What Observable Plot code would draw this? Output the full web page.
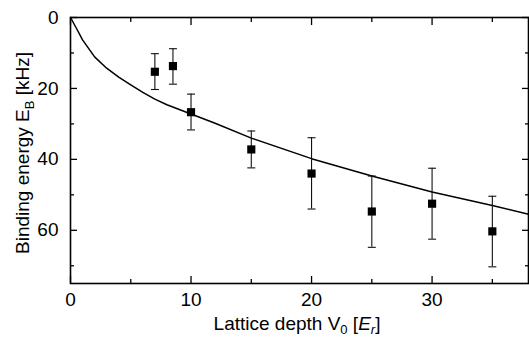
<!DOCTYPE html>
<html>
<head>
<meta charset="utf-8">
<script src="https://cdn.jsdelivr.net/npm/d3@7"></script>
<script src="https://cdn.jsdelivr.net/npm/@observablehq/plot@0.6"></script>
<style>
  html, body { margin: 0; padding: 0; background: #fff; }
  svg { font-family: "Liberation Sans", Arial, sans-serif; }
</style>
</head>
<body>
<div id="chart"></div>
<script>
// Measured points: lattice depth V0 [Er], binding energy EB [kHz], error [kHz]
const depth = [7, 8.5, 10, 15, 20, 25, 30, 35];
const energy = [15.3, 13.7, 26.7, 37.2, 44.0, 54.7, 52.5, 60.3];
const errLow = [10.2, 8.8, 21.6, 32.0, 33.9, 44.7, 42.5, 50.4];
const errHigh = [20.3, 18.8, 31.7, 42.4, 54.0, 64.8, 62.5, 70.3];

// Theory curve
const curveV = [0, 0.5, 1, 2, 3, 4, 5, 6, 7, 8, 10, 12, 15, 20, 25, 30, 35, 38];
const curveE = [0, 3.1, 6.3, 11.1, 14.3, 16.8, 19.0, 21.1, 23.0, 24.6, 27.2, 29.8, 34.0, 39.8, 44.7, 49.2, 53.0, 55.5];

const xMajor = [0, 10, 20, 30];
const xMinor = [5, 15, 25, 35];
const yMajor = [0, 20, 40, 60];
const yMinor = [10, 30, 50, 70];

const points = depth.map((v, i) => ({v, e: energy[i], lo: errLow[i], hi: errHigh[i]}));
const curve = curveV.map((v, i) => ({v, e: curveE[i]}));

const capSymbol = {
  draw(ctx, size) {
    const w = Math.sqrt(size);
    ctx.moveTo(-w / 2, 0);
    ctx.lineTo(w / 2, 0);
  }
};

const W = 529, H = 337;
const plot = Plot.plot({
  width: W,
  height: H,
  marginLeft: 70,
  marginTop: 17,
  marginRight: 1,
  marginBottom: 54,
  style: {fontFamily: "'Liberation Sans', Arial, sans-serif", fontSize: "19px", color: "#000", background: "#fff"},
  x: {domain: [0, 38], label: null},
  y: {domain: [0, 75], reverse: true, label: null},
  marks: [
    // bottom axis labels
    Plot.axisX(xMajor, {anchor: "bottom", tickSize: 0, tickPadding: 9, fontSize: 19, label: null}),
    // left axis labels
    Plot.axisY(yMajor, {anchor: "left", tickSize: 0, tickPadding: 12, fontSize: 19, label: null}),
    // inward ticks on all sides
    Plot.axisX(xMajor, {anchor: "bottom", tickSize: -7, tickFormat: () => "", label: null, strokeWidth: 1.3}),
    Plot.axisX(xMinor, {anchor: "bottom", tickSize: -4, tickFormat: () => "", label: null, strokeWidth: 1.3}),
    Plot.axisX(xMajor, {anchor: "top", tickSize: -7, tickFormat: () => "", label: null, strokeWidth: 1.3}),
    Plot.axisX(xMinor, {anchor: "top", tickSize: -4, tickFormat: () => "", label: null, strokeWidth: 1.3}),
    Plot.axisY(yMajor, {anchor: "left", tickSize: -7, tickFormat: () => "", label: null, strokeWidth: 1.3}),
    Plot.axisY(yMinor, {anchor: "left", tickSize: -4, tickFormat: () => "", label: null, strokeWidth: 1.3}),
    Plot.axisY(yMajor, {anchor: "right", tickSize: -7, tickFormat: () => "", label: null, strokeWidth: 1.3}),
    Plot.axisY(yMinor, {anchor: "right", tickSize: -4, tickFormat: () => "", label: null, strokeWidth: 1.3}),
    Plot.frame({stroke: "#000", strokeWidth: 1.6}),
    Plot.line(curve, {x: "v", y: "e", stroke: "#000", strokeWidth: 1.5}),
    Plot.ruleX(points, {x: "v", y1: "lo", y2: "hi", stroke: "#111", strokeWidth: 1.1}),
    Plot.dot(points, {x: "v", y: "lo", symbol: capSymbol, r: 4.5, stroke: "#111", strokeWidth: 1.1, fill: "none"}),
    Plot.dot(points, {x: "v", y: "hi", symbol: capSymbol, r: 4.5, stroke: "#111", strokeWidth: 1.1, fill: "none"}),
    Plot.dot(points, {x: "v", y: "e", symbol: "square", r: 4.6, fill: "#000", stroke: "none"})
  ]
});

// Axis titles with subscripts
const svg = d3.select(plot);
const xt = svg.append("text")
  .attr("x", 297).attr("y", 330)
  .attr("text-anchor", "middle")
  .attr("font-size", 19).attr("fill", "#000");
xt.append("tspan").text("Lattice depth V");
xt.append("tspan").attr("font-size", 13).attr("dy", 4).text("0");
xt.append("tspan").attr("dy", -4).text(" [");
xt.append("tspan").attr("font-style", "italic").text("E");
xt.append("tspan").attr("font-style", "italic").attr("font-size", 13).attr("dy", 4).text("r");
xt.append("tspan").attr("dy", -4).text("]");

const yt = svg.append("text")
  .attr("transform", "translate(29,153) rotate(-90)")
  .attr("text-anchor", "middle")
  .attr("font-size", 19).attr("fill", "#000");
yt.append("tspan").text("Binding energy E");
yt.append("tspan").attr("font-size", 13).attr("dy", 5).text("B");
yt.append("tspan").attr("dy", -5).text(" [kHz]");

document.getElementById("chart").appendChild(plot);
</script>
</body>
</html>
